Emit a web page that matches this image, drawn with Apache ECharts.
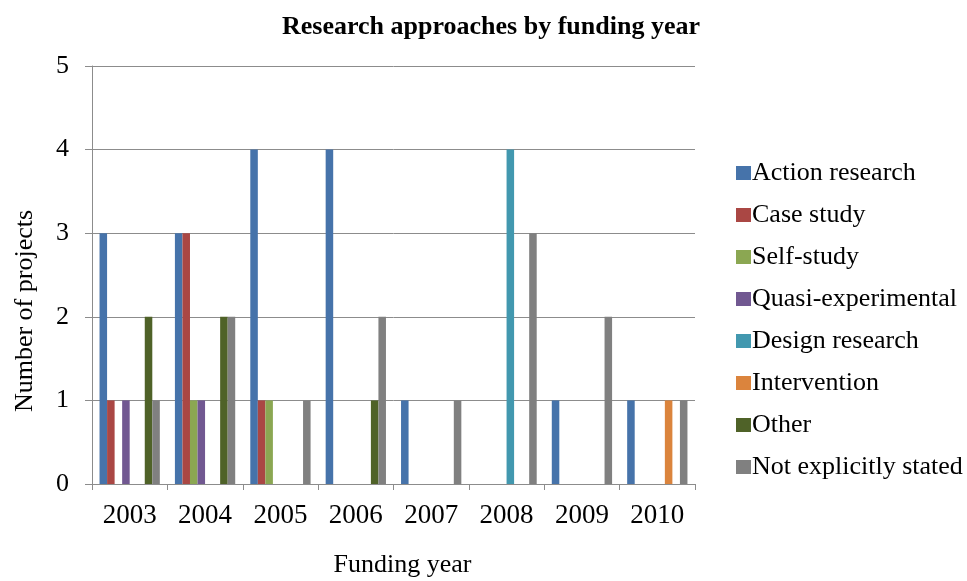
<!DOCTYPE html>
<html>
<head>
<meta charset="utf-8">
<script src="https://cdn.jsdelivr.net/npm/echarts@6/dist/echarts.min.js"></script>
<style>
  html, body { margin: 0; padding: 0; background: #fff; }
  #chart { width: 967px; height: 581px; }
</style>
</head>
<body>
<div id="chart"></div>
<script>
// Funding years on the category axis
const years = ['2003', '2004', '2005', '2006', '2007', '2008', '2009', '2010'];

// Number of projects per research approach, one value per funding year
const actionResearch     = [3, 3, 4, 4, 1, 0, 1, 1];
const caseStudy          = [1, 3, 1, 0, 0, 0, 0, 0];
const selfStudy          = [0, 1, 1, 0, 0, 0, 0, 0];
const quasiExperimental  = [1, 1, 0, 0, 0, 0, 0, 0];
const designResearch     = [0, 0, 0, 0, 0, 4, 0, 0];
const intervention       = [0, 0, 0, 0, 0, 0, 0, 1];
const other              = [2, 2, 0, 1, 0, 0, 0, 0];
const notExplicitlyStated = [1, 2, 1, 2, 1, 3, 2, 1];

const seriesDefs = [
  { name: 'Action research',       data: actionResearch,      color: '#4673AA' },
  { name: 'Case study',            data: caseStudy,           color: '#AA4744' },
  { name: 'Self-study',            data: selfStudy,           color: '#8BA752' },
  { name: 'Quasi-experimental',    data: quasiExperimental,   color: '#715891' },
  { name: 'Design research',       data: designResearch,      color: '#4298AF' },
  { name: 'Intervention',          data: intervention,        color: '#DB843D' },
  { name: 'Other',                 data: other,               color: '#4F6228' },
  { name: 'Not explicitly stated', data: notExplicitlyStated, color: '#808080' }
];

const serif = '"Liberation Serif", "Times New Roman", serif';
const axisGrey = '#8C8C8C';

const chart = echarts.init(document.getElementById('chart'), null, { renderer: 'canvas' });

chart.setOption({
  animation: false,
  backgroundColor: '#ffffff',
  textStyle: { fontFamily: serif, color: '#000' },
  title: {
    text: 'Research approaches by funding year',
    left: 486,
    textAlign: 'center',
    top: 9,
    textStyle: { fontFamily: serif, fontWeight: 'bold', fontSize: 26, color: '#000' }
  },
  grid: {
    left: 92, right: 272, top: 66, bottom: 97,
    containLabel: false,
    outerBoundsMode: 'none'
  },
  legend: {
    orient: 'vertical',
    left: 731,
    top: 154,
    itemWidth: 15,
    itemHeight: 14,
    itemGap: 14,
    icon: 'rect',
    selectedMode: false,
    textStyle: { fontFamily: serif, fontSize: 26, color: '#000', lineHeight: 28, padding: [0, 0, 0, -4] },
    data: seriesDefs.map(s => s.name)
  },
  xAxis: {
    type: 'category',
    data: years,
    name: 'Funding year',
    nameLocation: 'middle',
    nameGap: 68,
    nameTextStyle: { fontFamily: serif, fontSize: 26, color: '#000', padding: [0, 0, 0, 18] },
    axisLine: { lineStyle: { color: axisGrey, width: 1 } },
    axisTick: { show: true, alignWithLabel: false, length: 6, lineStyle: { color: axisGrey } },
    axisLabel: { fontFamily: serif, fontSize: 27, color: '#000', margin: 18 }
  },
  yAxis: {
    type: 'value',
    min: 0,
    max: 5,
    interval: 1,
    name: 'Number of projects',
    nameLocation: 'middle',
    nameGap: 54,
    nameTextStyle: { fontFamily: serif, fontSize: 26, color: '#000', padding: [0, 72, 0, 0] },
    axisLine: { show: true, lineStyle: { color: axisGrey, width: 1 } },
    axisTick: { show: true, length: 7, lineStyle: { color: axisGrey } },
    axisLabel: { fontFamily: serif, fontSize: 26, color: '#000', margin: 23 },
    splitLine: { show: true, lineStyle: { color: axisGrey, width: 1 } }
  },
  series: seriesDefs.map(s => ({
    name: s.name,
    type: 'bar',
    data: s.data,
    barGap: '0%',
    barCategoryGap: '20%',
    itemStyle: { color: s.color }
  }))
});
</script>
</body>
</html>
